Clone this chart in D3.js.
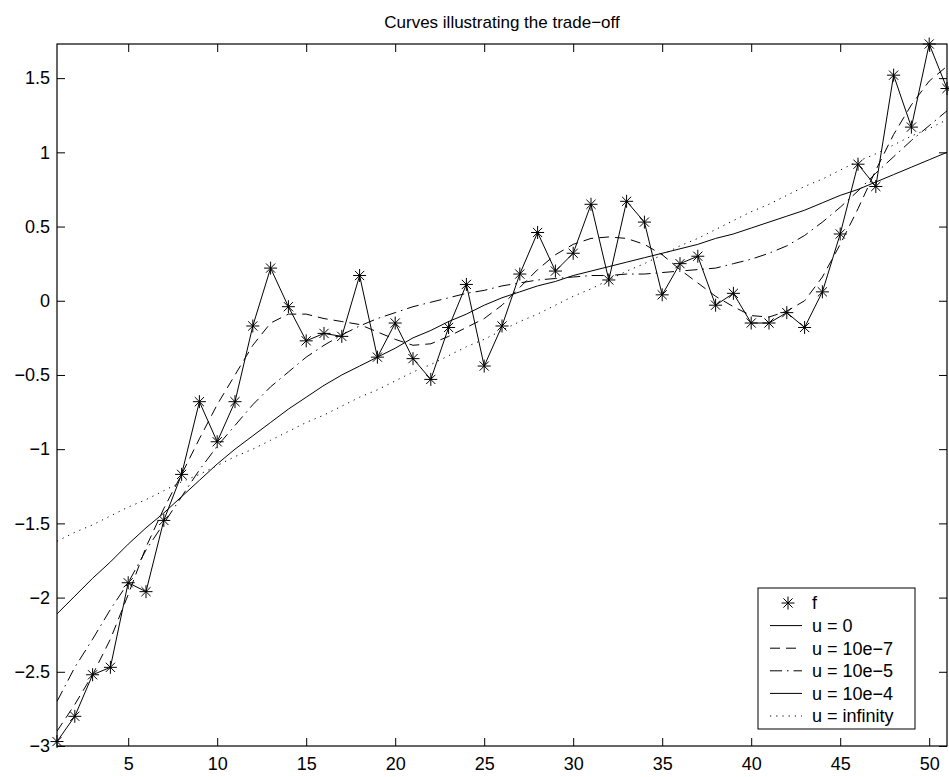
<!DOCTYPE html>
<html>
<head>
<meta charset="utf-8">
<script src="https://cdn.jsdelivr.net/npm/d3@7"></script>
<style>
  body { margin: 0; background: #fff; }
  text { font-family: 'Liberation Sans', Arial, Helvetica, sans-serif; fill: #000; }
</style>
</head>
<body>
<div id="chart"></div>
<script>
// sample index 1..51
const xs = d3.range(1, 52);

// data points f (also the u = 0 interpolating line)
const fValues = [-2.97, -2.80, -2.52, -2.47, -1.90, -1.96, -1.48, -1.17, -0.68, -0.95,
  -0.68, -0.17, 0.22, -0.04, -0.27, -0.22, -0.24, 0.17, -0.38, -0.15,
  -0.39, -0.53, -0.18, 0.11, -0.44, -0.17, 0.18, 0.46, 0.20, 0.32,
  0.65, 0.14, 0.67, 0.53, 0.04, 0.25, 0.30, -0.03, 0.05, -0.15,
  -0.15, -0.08, -0.18, 0.06, 0.45, 0.92, 0.77, 1.52, 1.17, 1.73, 1.43];

const u7Values = [-2.90, -2.72, -2.52, -2.28, -1.98, -1.66, -1.40, -1.17, -0.93, -0.70,
  -0.50, -0.30, -0.15, -0.09, -0.09, -0.12, -0.14, -0.16, -0.21, -0.26,
  -0.30, -0.29, -0.24, -0.18, -0.12, -0.03, 0.09, 0.21, 0.31, 0.38,
  0.42, 0.43, 0.42, 0.38, 0.31, 0.21, 0.12, 0.03, -0.04, -0.10,
  -0.11, -0.07, 0.00, 0.16, 0.38, 0.62, 0.88, 1.12, 1.32, 1.48, 1.58];

const u5Values = [-2.70, -2.47, -2.28, -2.08, -1.90, -1.68, -1.50, -1.32, -1.14, -0.98,
  -0.84, -0.70, -0.58, -0.48, -0.38, -0.30, -0.23, -0.17, -0.12, -0.08,
  -0.04, -0.01, 0.02, 0.05, 0.07, 0.10, 0.12, 0.14, 0.15, 0.16,
  0.17, 0.17, 0.18, 0.18, 0.19, 0.20, 0.21, 0.22, 0.25, 0.28,
  0.32, 0.37, 0.44, 0.53, 0.63, 0.74, 0.86, 0.97, 1.08, 1.18, 1.28];

const u4Values = [-2.11, -1.99, -1.87, -1.76, -1.64, -1.53, -1.43, -1.32, -1.21, -1.10,
  -1.00, -0.91, -0.82, -0.73, -0.65, -0.57, -0.50, -0.44, -0.38, -0.32,
  -0.25, -0.20, -0.14, -0.09, -0.03, 0.02, 0.06, 0.10, 0.13, 0.17,
  0.20, 0.23, 0.26, 0.29, 0.32, 0.35, 0.38, 0.42, 0.45, 0.49,
  0.53, 0.57, 0.61, 0.66, 0.71, 0.75, 0.80, 0.85, 0.90, 0.95, 1.00];

const uInfValues = [-1.62, -1.56, -1.51, -1.45, -1.39, -1.34, -1.28, -1.22, -1.17, -1.11,
  -1.05, -1.00, -0.94, -0.88, -0.82, -0.77, -0.71, -0.65, -0.60, -0.54,
  -0.48, -0.43, -0.37, -0.31, -0.26, -0.20, -0.14, -0.09, -0.03, 0.03,
  0.08, 0.14, 0.20, 0.25, 0.31, 0.37, 0.42, 0.48, 0.54, 0.60,
  0.65, 0.71, 0.77, 0.82, 0.88, 0.94, 0.99, 1.05, 1.11, 1.16, 1.22];

const xTicks = [5, 10, 15, 20, 25, 30, 35, 40, 45, 50];
const yTicks = [-3, -2.5, -2, -1.5, -1, -0.5, 0, 0.5, 1, 1.5];
const yTickLabels = ['\u22123', '\u22122.5', '\u22122', '\u22121.5', '\u22121', '\u22120.5', '0', '0.5', '1', '1.5'];

const legendLabels = ['f', 'u = 0', 'u = 10e\u22127', 'u = 10e\u22125', 'u = 10e\u22124', 'u = infinity'];
const titleText = 'Curves illustrating the trade\u2212off';

const totalWidth = 949;
const totalHeight = 777;
const margin = { top: 44, right: 2, bottom: 31, left: 57 };
const graphWidth = totalWidth - margin.left - margin.right;
const graphHeight = totalHeight - margin.top - margin.bottom;

const svg = d3.select('#chart')
  .append('svg')
  .attr('width', totalWidth)
  .attr('height', totalHeight);

const graph = svg.append('g')
  .attr('transform', `translate(${margin.left}, ${margin.top})`);

// scales
const x = d3.scaleLinear().domain([1, 51]).range([0, graphWidth]);
const y = d3.scaleLinear().domain([-3, 1.73]).range([graphHeight, 0]);

// line styles for each series
const series = [
  { values: fValues, dash: null },
  { values: u7Values, dash: '10,6' },
  { values: u5Values, dash: '12,5,1.5,5' },
  { values: u4Values, dash: null },
  { values: uInfValues, dash: '1.2,5' },
];

graph.append('clipPath').attr('id', 'clip')
  .append('rect').attr('width', graphWidth).attr('height', graphHeight);

const line = d3.line()
  .x((d, i) => x(xs[i]))
  .y(d => y(d));

graph.append('g')
  .attr('clip-path', 'url(#clip)')
  .selectAll('path')
  .data(series)
  .enter()
  .append('path')
  .attr('d', d => line(d.values))
  .attr('fill', 'none')
  .attr('stroke', '#000')
  .attr('stroke-width', 1)
  .attr('stroke-dasharray', d => d.dash);

// star markers, like matlab '*'
const star = 'M-6.5,0H6.5M0,-6.5V6.5M-4.6,-4.6L4.6,4.6M-4.6,4.6L4.6,-4.6';
graph.append('g')
  .selectAll('path')
  .data(fValues)
  .enter()
  .append('path')
  .attr('d', star)
  .attr('transform', (d, i) => `translate(${x(xs[i])}, ${y(d)})`)
  .attr('fill', 'none')
  .attr('stroke', '#000')
  .attr('stroke-width', 1);

// axes: ticks pointing inwards on all four sides
const tickLen = 8;
const xAxisBottom = d3.axisBottom(x).tickValues(xTicks).tickSize(-tickLen).tickPadding(11).tickFormat(d3.format('d'));
const xAxisTop = d3.axisTop(x).tickValues(xTicks).tickSize(-tickLen).tickFormat('');
const yAxisLeft = d3.axisLeft(y).tickValues(yTicks).tickSize(-tickLen).tickPadding(7)
  .tickFormat((d, i) => yTickLabels[i]);
const yAxisRight = d3.axisRight(y).tickValues(yTicks).tickSize(-tickLen).tickFormat('');

const styleAxis = (g) => {
  g.select('.domain').remove();
  g.selectAll('line').attr('stroke', '#000');
  g.selectAll('text').attr('fill', '#000')
    .style('font-size', '18px')
    .style('font-family', "'Liberation Sans', Arial, sans-serif");
};

graph.append('g').attr('transform', `translate(0, ${graphHeight})`).call(xAxisBottom).call(styleAxis);
graph.append('g').call(xAxisTop).call(styleAxis);
graph.append('g').call(yAxisLeft).call(styleAxis);
graph.append('g').attr('transform', `translate(${graphWidth}, 0)`).call(yAxisRight).call(styleAxis);

graph.append('rect')
  .attr('width', graphWidth)
  .attr('height', graphHeight)
  .attr('fill', 'none')
  .attr('stroke', '#000')
  .attr('stroke-width', 1.2);

// title
svg.append('text')
  .attr('x', margin.left + graphWidth / 2)
  .attr('y', 28)
  .attr('text-anchor', 'middle')
  .style('font-size', '17px')
  .text(titleText);

// legend
const legend = svg.append('g').attr('transform', 'translate(758, 588)');
legend.append('rect')
  .attr('width', 157)
  .attr('height', 141)
  .attr('fill', '#fff')
  .attr('stroke', '#000')
  .attr('stroke-width', 1);

const legendDash = [null, null, '10,6', '12,5,1.5,5', null, '1.2,5'];
const rowH = 22.6;
const rows = legend.selectAll('g.row')
  .data(legendLabels)
  .enter()
  .append('g')
  .attr('class', 'row')
  .attr('transform', (d, i) => `translate(0, ${15 + i * rowH})`);

rows.filter((d, i) => i > 0)
  .append('line')
  .attr('x1', 12).attr('x2', 44)
  .attr('stroke', '#000')
  .attr('stroke-width', 1)
  .attr('stroke-dasharray', (d, i) => legendDash[i + 1]);

rows.filter((d, i) => i === 0)
  .append('path')
  .attr('d', star)
  .attr('transform', 'translate(30, 0)')
  .attr('fill', 'none')
  .attr('stroke', '#000');

rows.append('text')
  .attr('x', 54)
  .attr('dy', '0.35em')
  .style('font-size', '18px')
  .text(d => d);
</script>
</body>
</html>
